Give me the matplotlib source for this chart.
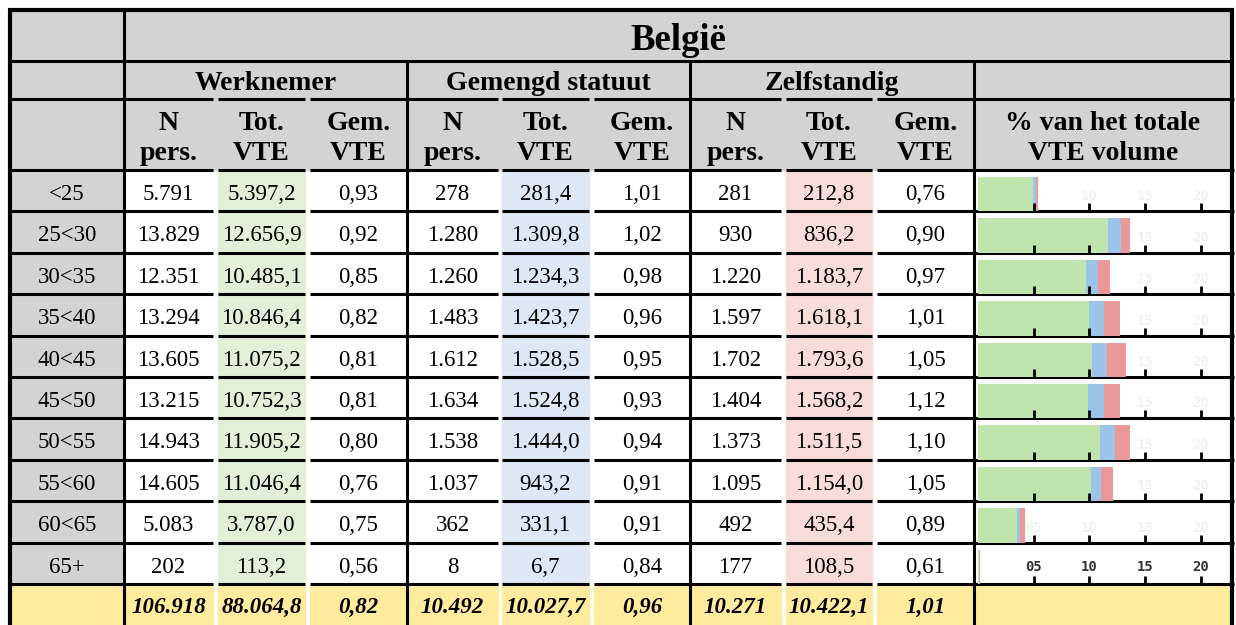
import matplotlib
matplotlib.use('Agg')
import matplotlib.pyplot as plt
from matplotlib.patches import Rectangle

# data
ages = ['<25', '25<30', '30<35', '35<40', '40<45', '45<50', '50<55', '55<60', '60<65', '65+']
wn_n = [5791, 13829, 12351, 13294, 13605, 13215, 14943, 14605, 5083, 202]
wn_vte = [5397.2, 12656.9, 10485.1, 10846.4, 11075.2, 10752.3, 11905.2, 11046.4, 3787.0, 113.2]
wn_gem = [0.93, 0.92, 0.85, 0.82, 0.81, 0.81, 0.80, 0.76, 0.75, 0.56]
gs_n = [278, 1280, 1260, 1483, 1612, 1634, 1538, 1037, 362, 8]
gs_vte = [281.4, 1309.8, 1234.3, 1423.7, 1528.5, 1524.8, 1444.0, 943.2, 331.1, 6.7]
gs_gem = [1.01, 1.02, 0.98, 0.96, 0.95, 0.93, 0.94, 0.91, 0.91, 0.84]
zs_n = [281, 930, 1220, 1597, 1702, 1404, 1373, 1095, 492, 177]
zs_vte = [212.8, 836.2, 1183.7, 1618.1, 1793.6, 1568.2, 1511.5, 1154.0, 435.4, 108.5]
zs_gem = [0.76, 0.90, 0.97, 1.01, 1.05, 1.12, 1.10, 1.05, 0.89, 0.61]

# totals as printed (werknemer, gemengd statuut, zelfstandig)
tot_n = [106918, 10492, 10271]
tot_vte = [88064.8, 10027.7, 10422.1]
tot_gem = [0.82, 0.96, 1.01]

title = 'België'
groups = ['Werknemer', 'Gemengd statuut', 'Zelfstandig']
sub_heads = ['N\npers.', 'Tot.\nVTE', 'Gem.\nVTE']
chart_head = '% van het totale\nVTE volume'
tick_vals = [5, 10, 15, 20]
tick_labels = ['05', '10', '15', '20']

# colours
GRAY = '#d3d3d3'
YELLOW = '#feeb9e'
CELL_COL = ['#e2f0da', '#dde8f4', '#f8dcda']
BAR_COL = ['#bfe4ae', '#9cc4e8', '#eb9898']
SERIF = 'Liberation Serif'


def fmt(v, dec):
    s = f'{v:,.{dec}f}'
    return s.replace(',', 'X').replace('.', ',').replace('X', '.')


W, H = 1236, 625
fig = plt.figure(figsize=(W / 100, H / 100), dpi=100)
ax = fig.add_axes([0, 0, 1, 1])
ax.set_xlim(0, W)
ax.set_ylim(H, 0)
ax.axis('off')

# layout (pixels)
XL, XR = 10, 1232
X_LAB = 124
cols = [(124, 213), (218, 305), (310, 407), (407, 498), (502, 589), (594, 690),
        (690, 781), (786, 872), (877, 974)]
group_x = [(124, 407), (407, 690), (690, 974)]
CH = (974, 1232)
Y0, Y1, Y2, Y3 = 10, 61, 99, 170
RH = 41.4
rows_y = [Y3 + i * RH for i in range(12)]
rows_y[-1] = H + 4
segs = [(XL, 213), (218, 305), (310, 498), (502, 589), (594, 781), (786, 872), (877, XR + 2)]
LW = 2.2

# header fill
ax.add_patch(Rectangle((XL, Y0), XR - XL, Y3 - Y0, color=GRAY, zorder=0))
# label column
ax.add_patch(Rectangle((XL, Y3), X_LAB - XL, rows_y[10] - Y3, color=GRAY, zorder=0))

# coloured Tot. VTE cells
for g in range(3):
    x0, x1 = cols[g * 3 + 1]
    ax.add_patch(Rectangle((x0, Y3), x1 - x0, rows_y[10] - Y3, color=CELL_COL[g], zorder=0))

# totals row
ty0, ty1 = rows_y[10], rows_y[11]
ax.add_patch(Rectangle((XL, ty0), X_LAB - XL, ty1 - ty0, color=YELLOW, zorder=0))
for x0, x1 in cols:
    ax.add_patch(Rectangle((x0, ty0), x1 - x0, ty1 - ty0, color=YELLOW, zorder=0))
ax.add_patch(Rectangle((CH[0], ty0), CH[1] - CH[0], ty1 - ty0, color=YELLOW, zorder=0))

# horizontal lines
ax.hlines([Y0], XL - 2, XR + 2, color='black', lw=3.0)
ax.hlines([Y1], XL, XR, color='black', lw=LW)
for y in [Y2] + rows_y[:11]:
    for a, b in segs:
        ax.hlines(y, a, b, color='black', lw=LW)

# vertical lines
ax.vlines([XL, XR], Y0, H + 4, color='black', lw=3.0)
ax.vlines([X_LAB], Y0, H + 4, color='black', lw=LW)
ax.vlines([407, 690, 974], Y1, H + 4, color='black', lw=LW)

# header text
ax.text((X_LAB + XR) / 2, 50, title, ha='center', va='baseline', fontsize=26.5,
        fontweight='bold', fontfamily=SERIF)
for (x0, x1), name in zip(group_x, groups):
    ax.text((x0 + x1) / 2, 90, name, ha='center', va='baseline', fontsize=20,
            fontweight='bold', fontfamily=SERIF)
for j, (x0, x1) in enumerate(cols):
    top, bot = sub_heads[j % 3].split('\n')
    ax.text((x0 + x1) / 2, 130, top, ha='center', va='baseline', fontsize=20,
            fontweight='bold', fontfamily=SERIF)
    ax.text((x0 + x1) / 2, 160, bot, ha='center', va='baseline', fontsize=20,
            fontweight='bold', fontfamily=SERIF)
l1, l2 = chart_head.split('\n')
ax.text((CH[0] + CH[1]) / 2, 130, l1, ha='center', va='baseline', fontsize=20,
        fontweight='bold', fontfamily=SERIF)
ax.text((CH[0] + CH[1]) / 2, 160, l2, ha='center', va='baseline', fontsize=20,
        fontweight='bold', fontfamily=SERIF)

# body text
series = [(wn_n, 0), (wn_vte, 1), (wn_gem, 2), (gs_n, 0), (gs_vte, 1), (gs_gem, 2),
          (zs_n, 0), (zs_vte, 1), (zs_gem, 2)]
for i, age in enumerate(ages):
    yb = rows_y[i] + 30
    ax.text((XL + X_LAB) / 2, yb, age, ha='center', va='baseline', fontsize=16.5,
            fontfamily=SERIF)
    for (x0, x1), (vals, kind) in zip(cols, series):
        ax.text((x0 + x1) / 2, yb, fmt(vals[i], kind), ha='center', va='baseline',
                fontsize=16.5, fontfamily=SERIF)

# totals
tot = []
for g in range(3):
    tot += [fmt(tot_n[g], 0), fmt(tot_vte[g], 1), fmt(tot_gem[g], 2)]
for (x0, x1), s in zip(cols, tot):
    ax.text((x0 + x1) / 2, ty0 + 29, s, ha='center', va='baseline', fontsize=16.5,
            fontweight='bold', fontstyle='italic', fontfamily=SERIF)

# embedded bar charts: share of total VTE volume
grand = sum(tot_vte)
PX_UNIT = 11.13
AX0, AX1 = 978, 1230
for i in range(len(ages)):
    top, bot = rows_y[i], rows_y[i + 1]
    h = bot - top
    bax = fig.add_axes([AX0 / W, 1 - bot / H, (AX1 - AX0) / W, h / H])
    bax.set_facecolor('none')
    bax.set_xlim(0, (AX1 - AX0) / PX_UNIT)
    bax.set_ylim(0, h)
    last = i == len(ages) - 1
    if not last:
        # ghost labels barely visible behind the bars
        for t, lab in zip(tick_vals, tick_labels):
            bax.text(t, 15, lab, ha='center', va='center', fontsize=10,
                     fontweight='bold', fontfamily='DejaVu Sans Mono',
                     color='#f1f1f1', zorder=0.5)
    left = 0
    for g, vals in enumerate([wn_vte, gs_vte, zs_vte]):
        p = vals[i] / grand * 100
        bax.barh(0, p, height=h - 7, left=left, align='edge', color=BAR_COL[g],
                 linewidth=0, zorder=1)
        left += p
    for s in bax.spines.values():
        s.set_visible(False)
    bax.set_yticks([])
    bax.set_xticks(tick_vals)
    bax.set_xticklabels(tick_labels if last else [''] * len(tick_vals))
    bax.tick_params(axis='x', direction='in', length=6, width=2, color='black',
                    pad=-17, labelsize=10, labelcolor='#333333')
    for lab in bax.get_xticklabels():
        lab.set_fontfamily('DejaVu Sans Mono')
        lab.set_fontweight('bold')

fig.savefig('out.png', dpi=100)
